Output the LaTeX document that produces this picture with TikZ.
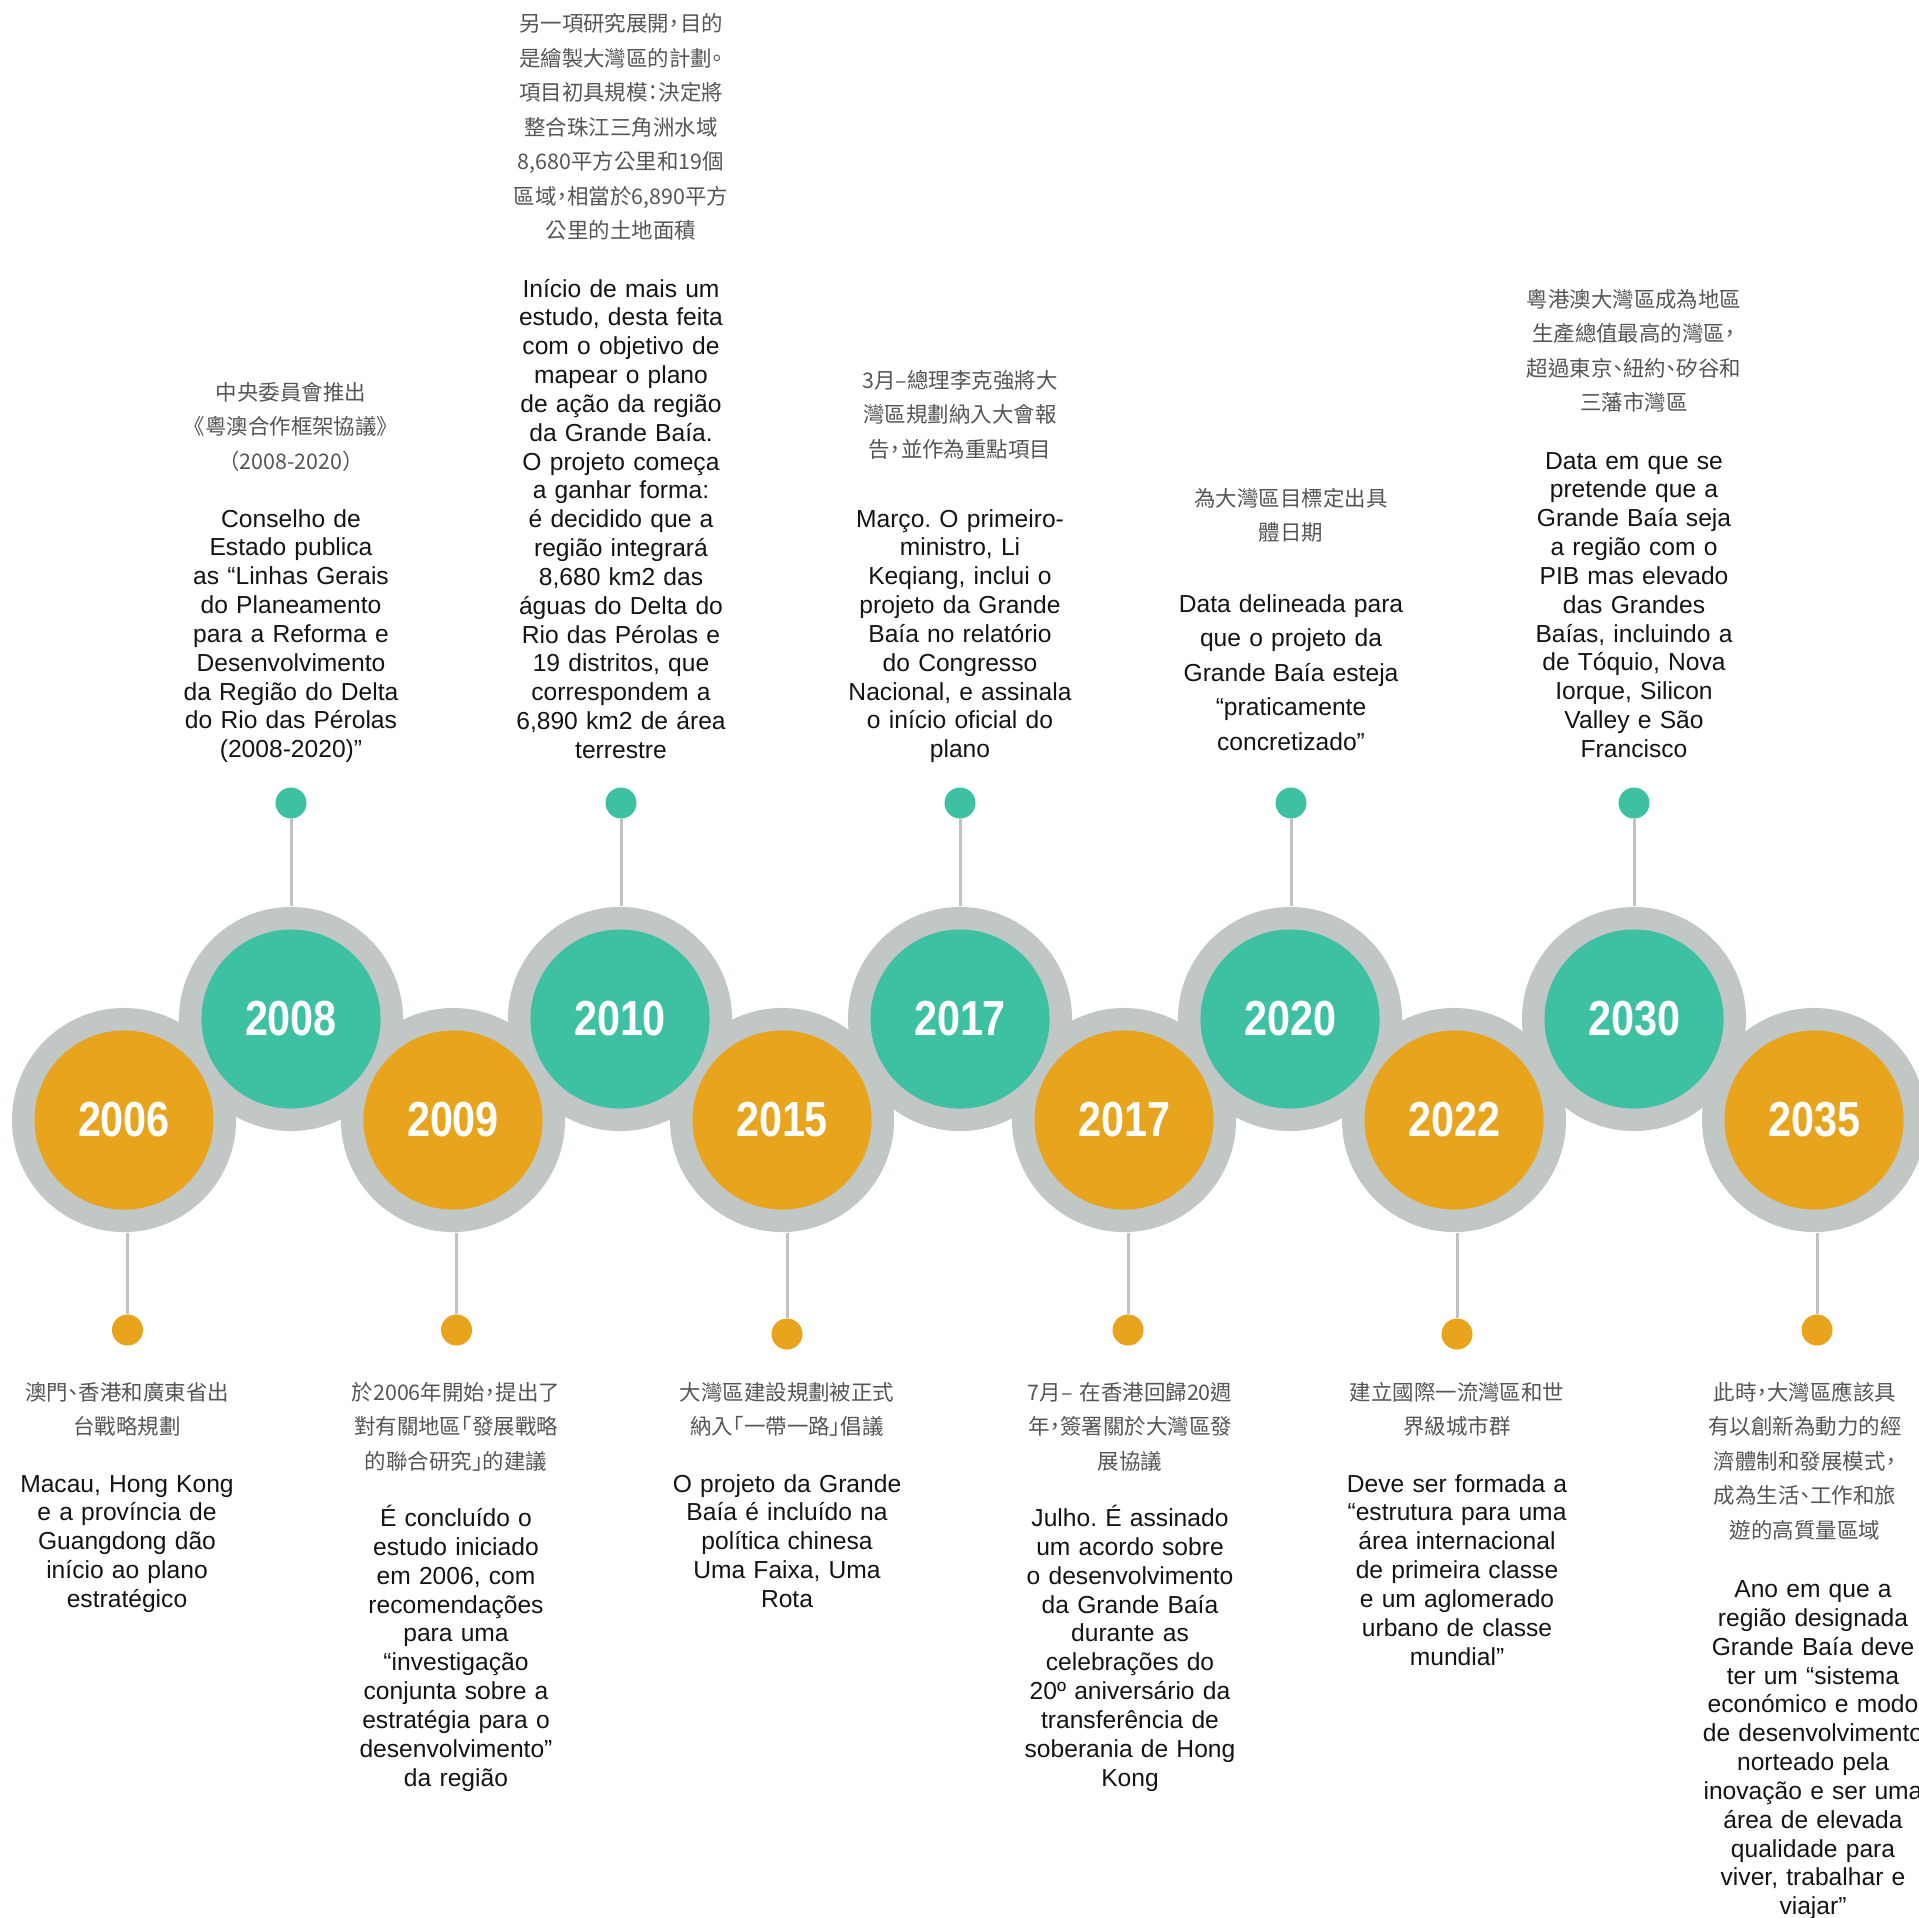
\documentclass[tikz,border=0pt]{standalone}
\usepackage{fontspec}
\setmainfont{Liberation Sans}
\newfontfamily\zhfont[RawFeature=+halt]{Noto Sans CJK TC}
\newfontfamily\yearfont[FakeStretch=0.84]{Liberation Sans Bold}
\usetikzlibrary{positioning}
\definecolor{color_teal}{RGB}{62,193,163}
\definecolor{color_gold}{RGB}{232,164,29}
\definecolor{color_ring}{RGB}{193,199,196}
\definecolor{color_stem}{RGB}{190,195,194}
\definecolor{color_zh}{RGB}{85,85,85}
\definecolor{color_pt}{RGB}{20,20,20}
\frenchspacing

\begin{document}
\begin{tikzpicture}[x=0.01cm, y=-0.01cm,
ring/.style={circle, fill=color_ring, minimum size=2.24cm, inner sep=0},
disc/.style={circle, minimum size=1.79cm, inner sep=0, text=white,
  font=\yearfont\fontsize{14}{16}\selectfont},
tealdisc/.style={disc, fill=color_teal},
golddisc/.style={disc, fill=color_gold},
pin/.style={circle, minimum size=0.31cm, inner sep=0},
stem/.style={draw=color_stem, line width=0.03cm},
zhtext/.style={anchor=base, text width=3.4cm, align=center, inner sep=0,
  text=color_zh, font=\zhfont\fontsize{6.1}{9.82}\selectfont},
pttext/.style={anchor=base, text width=3.4cm, align=center, inner sep=0,
  text=color_pt, font=\fontsize{7}{8.2}\selectfont}]
\useasboundingbox (0,0) rectangle (1919,1917);
\clip (0,0) rectangle (1919,1917);
% ANEIS
\node[ring] (r06) at (124,1120) {};
\node[ring] (r08) at (291,1019) {};
\node[ring] (r09) at (453,1120) {};
\node[ring] (r10) at (620,1019) {};
\node[ring] (r15) at (782,1120) {};
\node[ring] (r17a) at (960,1019) {};
\node[ring] (r17b) at (1124,1120) {};
\node[ring] (r20) at (1290,1019) {};
\node[ring] (r22) at (1454,1120) {};
\node[ring] (r30) at (1634,1019) {};
\node[ring] (r35) at (1814,1120) {};
% ANOS
\node[golddisc] (y06) at (r06) {2006};
\node[tealdisc] (y08) at (r08) {2008};
\node[golddisc] (y09) at (r09) {2009};
\node[tealdisc] (y10) at (r10) {2010};
\node[golddisc] (y15) at (r15) {2015};
\node[tealdisc] (y17a) at (r17a) {2017};
\node[golddisc] (y17b) at (r17b) {2017};
\node[tealdisc] (y20) at (r20) {2020};
\node[golddisc] (y22) at (r22) {2022};
\node[tealdisc] (y30) at (r30) {2030};
\node[golddisc] (y35) at (r35) {2035};
% PONTOS
\node[pin, fill=color_teal] (p08) at (291,803) {};
\node[pin, fill=color_teal] (p10) at (621,803) {};
\node[pin, fill=color_teal] (p17a) at (960,803) {};
\node[pin, fill=color_teal] (p20) at (1291,803) {};
\node[pin, fill=color_teal] (p30) at (1634,803) {};
\node[pin, fill=color_gold] (p06) at (127.5,1330) {};
\node[pin, fill=color_gold] (p09) at (456.5,1330) {};
\node[pin, fill=color_gold] (p15) at (787,1334) {};
\node[pin, fill=color_gold] (p17b) at (1128,1330) {};
\node[pin, fill=color_gold] (p22) at (1457,1334) {};
\node[pin, fill=color_gold] (p35) at (1817,1330) {};
% HASTES
\draw[stem] (p08.south) -- (p08 |- r08.north);
\draw[stem] (p10.south) -- (p10 |- r10.north);
\draw[stem] (p17a.south) -- (p17a |- r17a.north);
\draw[stem] (p20.south) -- (p20 |- r20.north);
\draw[stem] (p30.south) -- (p30 |- r30.north);
\draw[stem] (p06.north) -- (p06 |- r06.south);
\draw[stem] (p09.north) -- (p09 |- r09.south);
\draw[stem] (p15.north) -- (p15 |- r15.south);
\draw[stem] (p17b.north) -- (p17b |- r17b.south);
\draw[stem] (p22.north) -- (p22 |- r22.south);
\draw[stem] (p35.north) -- (p35 |- r35.south);
% TEXTOS EM CIMA
\node[zhtext] (zh08) at (291,400) {中央委員會推出\\《粵澳合作框架協議》\\（2008-2020）};
\node[pttext] (pt08) at (291,527) {Conselho de\\Estado publica\\as “Linhas Gerais\\do Planeamento\\para a Reforma e\\Desenvolvimento\\da Região do Delta\\do Rio das Pérolas\\(2008-2020)”};
\node[zhtext] (zh10) at (621,31.5) {另一項研究展開，目的\\是繪製大灣區的計劃。\\項目初具規模：決定將\\整合珠江三角洲水域\\8,680平方公里和19個\\區域，相當於6,890平方\\公里的土地面積};
\node[pttext] (pt10) at (621,297) {Início de mais um\\estudo, desta feita\\com o objetivo de\\mapear o plano\\de ação da região\\da Grande Baía.\\O projeto começa\\a ganhar forma:\\é decidido que a\\região integrará\\8,680 km2 das\\águas do Delta do\\Rio das Pérolas e\\19 distritos, que\\correspondem a\\6,890 km2 de área\\terrestre};
\node[zhtext] (zh17a) at (960,388) {3月–總理李克強將大\\灣區規劃納入大會報\\告，並作為重點項目};
\node[pttext] (pt17a) at (960,527) {Março. O primeiro-\\ministro, Li\\Keqiang, inclui o\\projeto da Grande\\Baía no relatório\\do Congresso\\Nacional, e assinala\\o início oficial do\\plano};
\node[zhtext] (zh20) at (1291,506) {為大灣區目標定出具\\體日期};
\node[pttext, font=\fontsize{7}{9.82}\selectfont] (pt20) at (1291,612) {Data delineada para\\que o projeto da\\Grande Baía esteja\\“praticamente\\concretizado”};
\node[zhtext] (zh30) at (1634,307) {粵港澳大灣區成為地區\\生產總值最高的灣區，\\超過東京、紐約、矽谷和\\三藩市灣區};
\node[pttext] (pt30) at (1634,469) {Data em que se\\pretende que a\\Grande Baía seja\\a região com o\\PIB mas elevado\\das Grandes\\Baías, incluindo a\\de Tóquio, Nova\\Iorque, Silicon\\Valley e São\\Francisco};
% TEXTOS EM BAIXO
\node[zhtext] (zh06) at (127,1400) {澳門、香港和廣東省出\\台戰略規劃};
\node[pttext] (pt06) at (127,1492) {Macau, Hong Kong\\e a província de\\Guangdong dão\\início ao plano\\estratégico};
\node[zhtext] (zh09) at (456,1400) {於2006年開始，提出了\\對有關地區「發展戰略\\的聯合研究」的建議};
\node[pttext] (pt09) at (456,1526.5) {É concluído o\\estudo iniciado\\em 2006, com\\recomendações\\para uma\\“investigação\\conjunta sobre a\\estratégia para o\\desenvolvimento”\\da região};
\node[zhtext] (zh15) at (787,1400) {大灣區建設規劃被正式\\納入「一帶一路」倡議};
\node[pttext] (pt15) at (787,1492) {O projeto da Grande\\Baía é incluído na\\política chinesa\\Uma Faixa, Uma\\Rota};
\node[zhtext] (zh17b) at (1130,1400) {7月– 在香港回歸20週\\年，簽署關於大灣區發\\展協議};
\node[pttext] (pt17b) at (1130,1526.5) {Julho. É assinado\\um acordo sobre\\o desenvolvimento\\da Grande Baía\\durante as\\celebrações do\\20º aniversário da\\transferência de\\soberania de Hong\\Kong};
\node[zhtext] (zh22) at (1457,1400) {建立國際一流灣區和世\\界級城市群};
\node[pttext] (pt22) at (1457,1492) {Deve ser formada a\\“estrutura para uma\\área internacional\\de primeira classe\\e um aglomerado\\urbano de classe\\mundial”};
\node[zhtext] (zh35) at (1805,1400) {此時，大灣區應該具\\有以創新為動力的經\\濟體制和發展模式，\\成為生活、工作和旅\\遊的高質量區域};
\node[pttext] (pt35) at (1813,1597.5) {Ano em que a\\região designada\\Grande Baía deve\\ter um “sistema\\económico e modo\\de desenvolvimento\\norteado pela\\inovação e ser uma\\área de elevada\\qualidade para\\viver, trabalhar e\\viajar”};
\end{tikzpicture}
\end{document}
